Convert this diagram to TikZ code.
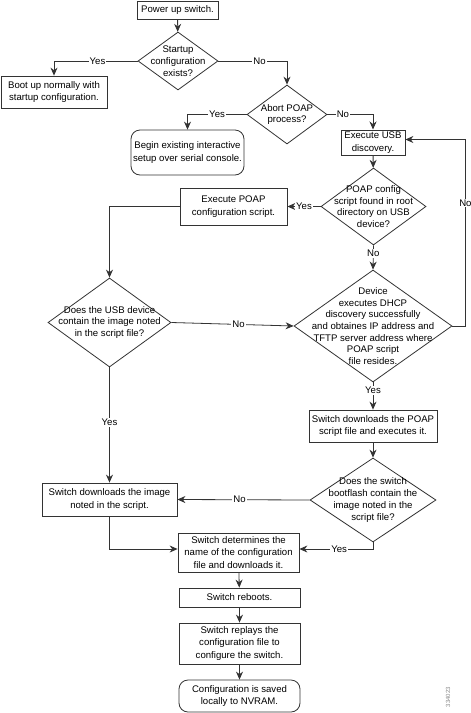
\documentclass[tikz,border=0pt]{standalone}
\usepackage{fontspec}
\setmainfont{Liberation Sans}
\usetikzlibrary{shapes.geometric, arrows.meta}

\tikzset{
    flow/.style={draw=black!80, line width=0.8pt},
    box/.style={flow, rectangle, align=center, inner sep=2pt},
    term/.style={flow, rectangle, rounded corners=9pt, align=center, inner sep=2pt},
    decision/.style={flow, diamond, inner sep=0pt},
    dtxt/.style={align=center, inner sep=0pt, font=\fontsize{9.6}{11.7}\selectfont},
    conn/.style={draw=black!80, line width=0.8pt, -{Stealth[length=8pt, width=7pt]}},
    line/.style={draw=black!80, line width=0.8pt},
    lbl/.style={fill=white, inner sep=1pt, font=\fontsize{9.6}{11}\selectfont},
}

\begin{document}
\begin{tikzpicture}[x=1pt, y=-1pt, font=\fontsize{9.6}{12.5}\selectfont]
    \useasboundingbox[fill=white] (0,0) rectangle (471,713);

    % top part
    \node[box, minimum width=81pt, minimum height=18pt] (power) at (177.5,10) {Power up switch.};
    \node[decision, minimum width=80pt, minimum height=58pt,
          label={[dtxt]center:Startup\\configuration\\exists?}] (startup) at (178,61) {};
    \node[box, minimum width=106pt, minimum height=32pt] (boot) at (54,92) {Boot up normally with\\startup configuration.};
    \node[decision, minimum width=80pt, minimum height=59pt,
          label={[dtxt]center:Abort POAP\\process?}] (abort) at (287,114.5) {};
    \node[term, minimum width=113pt, minimum height=45pt] (serial) at (187.5,152.5) {Begin existing interactive\\setup over serial console.};
    \node[box, minimum width=64pt, minimum height=25pt] (usb) at (373,142.5) {Execute USB\\discovery.};

    % middle part
    \node[decision, minimum width=105pt, minimum height=77pt,
          label={[dtxt]center:POAP config\\script found in root\\directory on USB\\device?}] (found) at (373.5,206.5) {};
    \node[box, minimum width=107pt, minimum height=37pt] (runscript) at (233.5,206.5) {Execute POAP\\configuration script.};
    \node[decision, minimum width=123pt, minimum height=89pt,
          label={[dtxt]center:Does the USB device\\contain the image noted\\in the script file?}] (usbimg) at (109.5,322.5) {};
    \node[decision, minimum width=158pt, minimum height=112pt,
          label={[dtxt]center:Device\\executes DHCP\\discovery successfully\\and obtaines IP address and\\TFTP server address where\\POAP script\\file resides.}] (dhcp) at (373,326) {};

    % lower part
    \node[box, minimum width=128pt, minimum height=32pt] (getscript) at (373,426) {Switch downloads the POAP\\script file and executes it.};
    \node[decision, minimum width=126pt, minimum height=84pt,
          label={[dtxt]center:Does the switch\\bootflash contain the\\image noted in the\\script file?}] (flash) at (373,500) {};
    \node[box, minimum width=135pt, minimum height=33pt] (getimg) at (109.5,499.5) {Switch downloads the image\\noted in the script.};
    \node[box, minimum width=121pt, minimum height=39pt] (getcfg) at (238.5,552.5) {Switch determines the\\name of the configuration\\file and downloads it.};
    \node[box, minimum width=121pt, minimum height=19pt] (reboot) at (239.5,597.5) {Switch reboots.};
    \node[box, minimum width=121pt, minimum height=41pt] (replay) at (239.5,643.5) {Switch replays the\\configuration file to\\configure the switch.};
    \node[term, minimum width=121pt, minimum height=32pt] (saved) at (239.5,696) {Configuration is saved\\locally to NVRAM.};
    \node[rotate=90, text=black!45, font=\fontsize{6}{6}\selectfont] (fignum) at (448,697) {334023};

    % connectors
    \draw[conn] (power) -- (startup);
    \draw[conn] (startup.west) -| node[lbl, pos=0.24] {Yes} (boot.north);
    \draw[conn] (startup.east) -| node[lbl, pos=0.3] {No} (abort.north);
    \draw[conn] (abort.west) -| node[lbl, pos=0.25] {Yes} (serial.north);
    \draw[conn] (abort.east) -| node[lbl, pos=0.17] {No} (usb.north);
    \draw[conn] (usb) -- (found);
    \draw[conn] (found.west) -- node[lbl, pos=0.5] {Yes} (runscript.east);
    \draw[conn] (runscript.west) -| (usbimg.north);
    \draw[conn] (found.south) -- node[lbl, pos=0.33] {No} (dhcp.north);
    \draw[conn] (usbimg.east) -- node[lbl, pos=0.55] {No} (dhcp.west);
    \draw[conn] (dhcp.east) -- ++(13,0) |- node[lbl, pos=0.33] {No} ([yshift=3pt]usb.east);
    \draw[conn] (dhcp.south) -- node[lbl, pos=0.3] {Yes} (getscript.north);
    \draw[conn] (getscript) -- (flash);
    \draw[conn] (flash.west) -- node[lbl, pos=0.53] {No} (getimg.east);
    \draw[conn] (usbimg.south) -- node[lbl, pos=0.48] {Yes} (getimg.north);
    \draw[conn] (getimg.south) |- ([yshift=3.5pt]getcfg.west);
    \draw[conn] (flash.south) |- node[lbl, pos=0.73] {Yes} ([yshift=3.5pt]getcfg.east);
    \draw[conn] (getcfg) -- (reboot);
    \draw[conn] (reboot) -- (replay);
    \draw[conn] (replay) -- (saved);
\end{tikzpicture}
\end{document}
